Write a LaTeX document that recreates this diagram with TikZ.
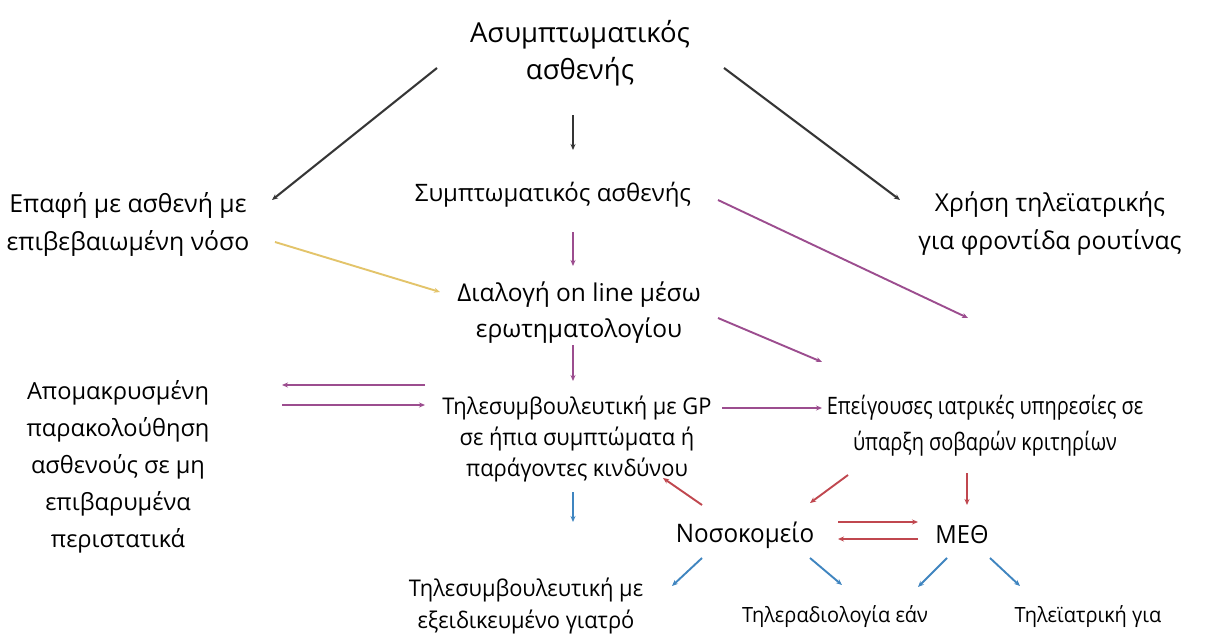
\documentclass[tikz,border=0pt]{standalone}
\usepackage{fontspec}
\setmainfont{Open Sans}
\newfontfamily\condfont[FakeStretch=0.95]{Open Sans}
\newfontfamily\narrowfont[FakeStretch=0.83]{Open Sans}
\usetikzlibrary{arrows.meta}
\definecolor{cblk}{HTML}{353535}
\definecolor{cpur}{HTML}{9C4D8F}
\definecolor{cyel}{HTML}{E3C46A}
\definecolor{cred}{HTML}{C0474F}
\definecolor{cblu}{HTML}{3F85C0}
\begin{document}
\begin{tikzpicture}[x=1pt,y=-1pt,
  txt/.style={align=center,inner sep=0pt,text=black},
  arr/.style={-{Stealth[length=6pt,width=5pt]},line width=1.9pt},
  ablk/.style={arr,draw=cblk,line width=2.1pt},
  apur/.style={arr,draw=cpur},
  ayel/.style={arr,draw=cyel},
  ared/.style={arr,draw=cred},
  ablu/.style={arr,draw=cblu}]
\useasboundingbox[fill=white] (0,0) rectangle (1227,637);
\node[txt,font=\fontsize{27.5}{37}\selectfont] (T) at (580,53) {Ασυμπτωματικός\\ασθενής};
\node[txt,font=\fontsize{24.8}{38}\selectfont] (C) at (128,224) {Επαφή με ασθενή με\\επιβεβαιωμένη νόσο};
\node[txt,font=\fontsize{24}{36}\selectfont] (S) at (553,195) {Συμπτωματικός ασθενής};
\node[txt,font=\fontsize{24.6}{38}\selectfont] (H) at (1050,224) {Χρήση τηλεϊατρικής\\για φροντίδα ρουτίνας};
\node[txt,font=\fontsize{24.5}{36}\selectfont] (D) at (579,313) {Διαλογή on line μέσω\\ερωτηματολογίου};
\node[txt,font=\fontsize{23.6}{37}\selectfont] (R) at (118,467) {Απομακρυσμένη\\παρακολούθηση\\ασθενούς σε μη\\επιβαρυμένα\\περιστατικά};
\node[txt,font=\condfont\fontsize{23}{31}\selectfont] (G) at (577,439) {Τηλεσυμβουλευτική με GP\\σε ήπια συμπτώματα ή\\παράγοντες κινδύνου};
\node[txt,font=\narrowfont\fontsize{24}{36}\selectfont] (E) at (985,426) {Επείγουσες ιατρικές υπηρεσίες σε\\ύπαρξη σοβαρών κριτηρίων};
\node[txt,font=\condfont\fontsize{25.5}{36}\selectfont] (N) at (745,535) {Νοσοκομείο};
\node[txt,font=\condfont\fontsize{25}{36}\selectfont] (M) at (962,535) {ΜΕΘ};
\node[txt,font=\condfont\fontsize{23}{32}\selectfont] (X) at (526,606) {Τηλεσυμβουλευτική με\\εξειδικευμένο γιατρό};
\node[txt,font=\condfont\fontsize{21}{32}\selectfont] (Y) at (835,617) {Τηλεραδιολογία εάν};
\node[txt,font=\condfont\fontsize{21}{32}\selectfont] (Z) at (1088,617) {Τηλεϊατρική για};
% black
\draw[ablk] ([shift={(-143,15)}]T.center) -- ([shift={(144,-24)}]C.center);
\draw[ablk] ([shift={(-7,62)}]T.center) -- ([shift={(20,-45)}]S.center);
\draw[ablk] ([shift={(144,15)}]T.center) -- ([shift={(-150,-24)}]H.center);
% purple and yellow
\draw[apur] ([shift={(20,37)}]S.center) -- ([shift={(-6,-47)}]D.center);
\draw[ayel] ([shift={(147,18)}]C.center) -- ([shift={(-139,-21)}]D.center);
\draw[apur] ([shift={(165,5)}]S.center) -- ([shift={(-17,-108)}]E.center);
\draw[apur] ([shift={(139,5)}]D.center) -- ([shift={(-163,-64)}]E.center);
\draw[apur] ([shift={(-6,32)}]D.center) -- ([shift={(-4,-58)}]G.center);
\draw[apur] ([shift={(-152,-54)}]G.center) -- ([shift={(164,-82)}]R.center);
\draw[apur] ([shift={(164,-62)}]R.center) -- ([shift={(-152,-34)}]G.center);
\draw[apur] ([shift={(145,-31)}]G.center) -- ([shift={(-163,-18)}]E.center);
% red
\draw[ared] ([shift={(-43,-30)}]N.center) -- ([shift={(86,39)}]G.center);
\draw[ared] ([shift={(-137,49)}]E.center) -- ([shift={(65,-32)}]N.center);
\draw[ared] ([shift={(-18,47)}]E.center) -- ([shift={(5,-30)}]M.center);
\draw[ared] ([shift={(93,-13)}]N.center) -- ([shift={(-44,-13)}]M.center);
\draw[ared] ([shift={(-44,4)}]M.center) -- ([shift={(93,4)}]N.center);
% blue
\draw[ablu] ([shift={(-4,53)}]G.center) -- ([shift={(47,-84)}]X.center);
\draw[ablu] ([shift={(-43,23)}]N.center) -- ([shift={(146,-20)}]X.center);
\draw[ablu] ([shift={(65,23)}]N.center) -- ([shift={(7,-32)}]Y.center);
\draw[ablu] ([shift={(-15,23)}]M.center) -- ([shift={(83,-30)}]Y.center);
\draw[ablu] ([shift={(28,23)}]M.center) -- ([shift={(-68,-31)}]Z.center);
\end{tikzpicture}
\end{document}
